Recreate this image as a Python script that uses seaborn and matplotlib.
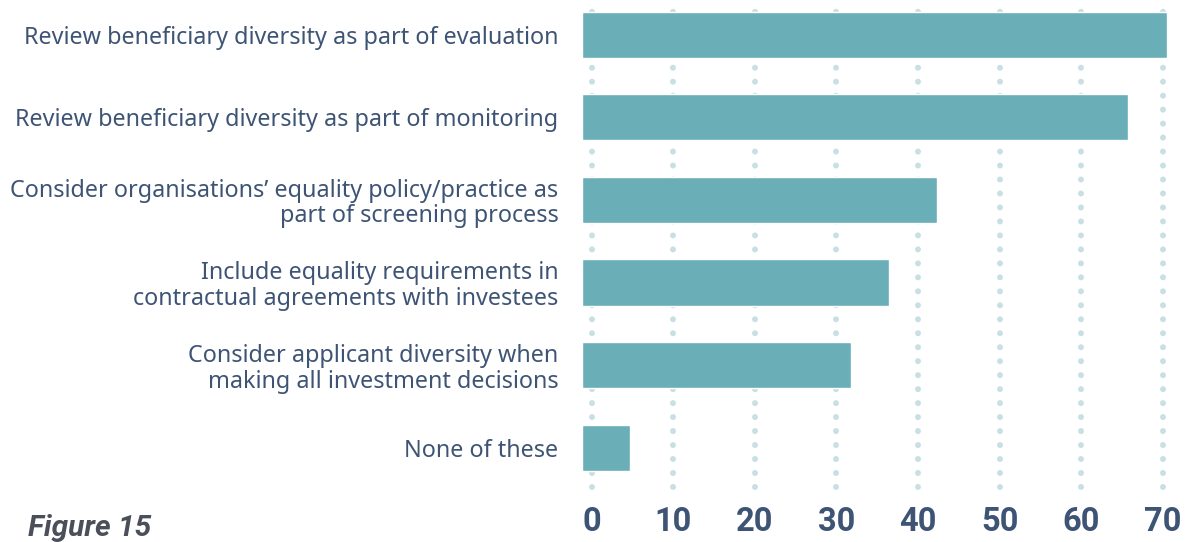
import matplotlib
matplotlib.use("Agg")
import matplotlib.pyplot as plt
import seaborn as sns
import pandas as pd

# data
actions = [
    "Review beneficiary diversity as part of evaluation",
    "Review beneficiary diversity as part of monitoring",
    "Consider organisations\u2019 equality policy/practice as\npart of screening process",
    "Include equality requirements in\ncontractual agreements with investees",
    "Consider applicant diversity when\nmaking all investment decisions",
    "None of these",
]
percent = [71.7, 66.9, 43.5, 37.6, 33.0, 5.9]
ticks = [0, 10, 20, 30, 40, 50, 60, 70]

df = pd.DataFrame({"action": actions, "percent": percent})

sns.set_theme(style="white")
plt.rcParams["font.family"] = ["Noto Sans", "DejaVu Sans"]

text_col = "#3e5475"
bar_col = "#6aafb8"
dot_col = "#c8dfe3"

fig = plt.figure(figsize=(11.88, 5.42), dpi=100)
ax = fig.add_axes([582 / 1188, 53 / 542, 606 / 1188, 489 / 542])

sns.barplot(data=df, x="percent", y="action", color=bar_col, saturation=1,
            width=0.56, orient="h", ax=ax, zorder=3)

ax.set_xlim(0, 74.3)
ax.set_ylim(5.5, -0.42)

# the dotted grid and tick labels sit a little right of the bar origin
offset = 1.2
grid_pos = [t + offset for t in ticks]
for g in grid_pos:
    ax.plot([g, g], [0.004, 0.985], color=dot_col, lw=4.3,
            linestyle=(0, (0.01, 2.33)), dash_capstyle="round", zorder=1,
            clip_on=False, transform=ax.get_xaxis_transform())

ax.set_xticks(grid_pos)
ax.set_xticklabels([str(t) for t in ticks], fontweight="bold",
                   family=["Roboto", "DejaVu Sans"])
ax.tick_params(axis="x", length=0, pad=12, labelsize=23.5, labelcolor=text_col)

ax.tick_params(axis="y", length=0, pad=17, labelsize=16.8, labelcolor=text_col)
for lab in ax.get_yticklabels():
    lab.set_linespacing(1.08)

ax.set_xlabel("")
ax.set_ylabel("")
sns.despine(ax=ax, left=True, bottom=True)

fig.text(28 / 1188, 6 / 542, "Figure 15", fontsize=21.5, fontweight="bold",
         fontstyle="italic", color="#4a4f5a", ha="left", va="baseline",
         family=["Roboto", "DejaVu Sans"])

fig.savefig("out.png", dpi=100)
